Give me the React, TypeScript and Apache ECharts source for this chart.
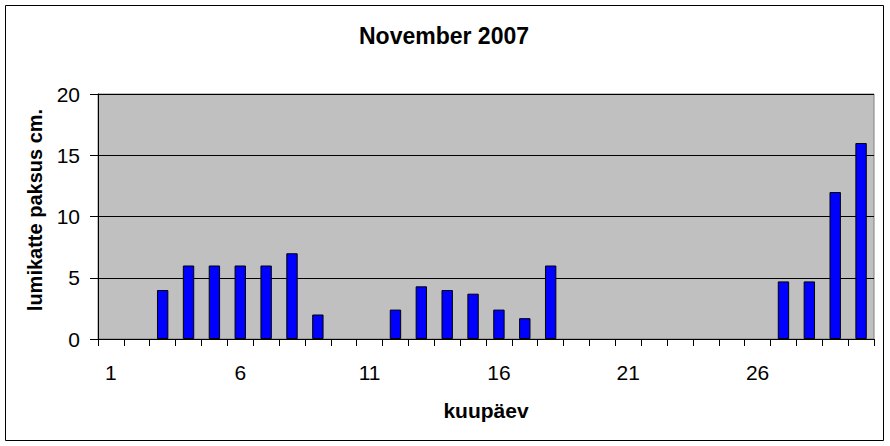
import React, { useEffect, useRef } from "react";
import * as echarts from "echarts";

const days: string[] = [
  "1", "2", "3", "4", "5", "6", "7", "8", "9", "10",
  "11", "12", "13", "14", "15", "16", "17", "18", "19", "20",
  "21", "22", "23", "24", "25", "26", "27", "28", "29", "30",
];
const snowDepth: (number | null)[] = [
  null, null, 4, 6, 6, 6, 6, 7, 2, null,
  null, 2.4, 4.3, 4, 3.7, 2.4, 1.7, 6, null, null,
  null, null, null, null, null, null, 4.7, 4.7, 12, 16,
];
const titleText = "November 2007";
const xName = "kuupäev";
const yName = "lumikatte paksus cm.";

const FONT = "'Liberation Sans', Arial, sans-serif";

export default function App() {
  const ref = useRef<HTMLDivElement>(null);
  useEffect(() => {
    if (!ref.current) return;
    const chart = echarts.init(ref.current, undefined, { renderer: "svg" });
    chart.setOption({
      animation: false,
      backgroundColor: "#ffffff",
      textStyle: { fontFamily: FONT },
      grid: {
        left: 98,
        right: 16,
        top: 94,
        bottom: 107,
        show: true,
        backgroundColor: "#c0c0c0",
        borderColor: "#808080",
        borderWidth: 1,
      },
      xAxis: {
        type: "category",
        data: days,
        boundaryGap: true,
        axisLine: { show: true, lineStyle: { color: "#000", width: 1 } },
        axisTick: { show: true, interval: 0, length: 7, lineStyle: { color: "#000" } },
        axisLabel: {
          interval: 4,
          margin: 23,
          fontSize: 21,
          color: "#000",
          fontFamily: FONT,
        },
        splitLine: { show: false },
      },
      yAxis: {
        type: "value",
        min: 0,
        max: 20,
        interval: 5,
        axisLine: { show: true, lineStyle: { color: "#000", width: 1 } },
        axisTick: { show: true, length: 8, lineStyle: { color: "#000" } },
        axisLabel: { margin: 18, fontSize: 21, color: "#000", fontFamily: FONT },
        splitLine: { show: true, lineStyle: { color: "#000", width: 1 } },
      },
      series: [
        {
          type: "bar",
          data: snowDepth,
          barWidth: "44%",
          itemStyle: { color: "#0000ff", borderColor: "#000", borderWidth: 1 },
        },
      ],
      graphic: [
        {
          type: "rect",
          shape: { x: 5.5, y: 5.5, width: 878, height: 435 },
          style: { fill: "none", stroke: "#000", lineWidth: 1 },
          silent: true,
          z: 100,
        },
        {
          type: "text",
          x: 444,
          y: 36,
          style: {
            text: titleText,
            fontSize: 23,
            fontWeight: "bold",
            fontFamily: FONT,
            fill: "#000",
            textAlign: "center",
            textVerticalAlign: "middle",
          },
        },
        {
          type: "text",
          x: 486,
          y: 410,
          style: {
            text: xName,
            fontSize: 21,
            fontWeight: "bold",
            fontFamily: FONT,
            fill: "#000",
            textAlign: "center",
            textVerticalAlign: "middle",
          },
        },
        {
          type: "text",
          x: 35,
          y: 210,
          rotation: Math.PI / 2,
          style: {
            text: yName,
            fontSize: 20,
            fontWeight: "bold",
            fontFamily: FONT,
            fill: "#000",
            textAlign: "center",
            textVerticalAlign: "middle",
          },
        },
      ],
    });
    return () => chart.dispose();
  }, []);
  return (
    <div
      ref={ref}
      style={{ position: "fixed", left: 0, top: 0, width: 890, height: 446, background: "#fff" }}
    />
  );
}
